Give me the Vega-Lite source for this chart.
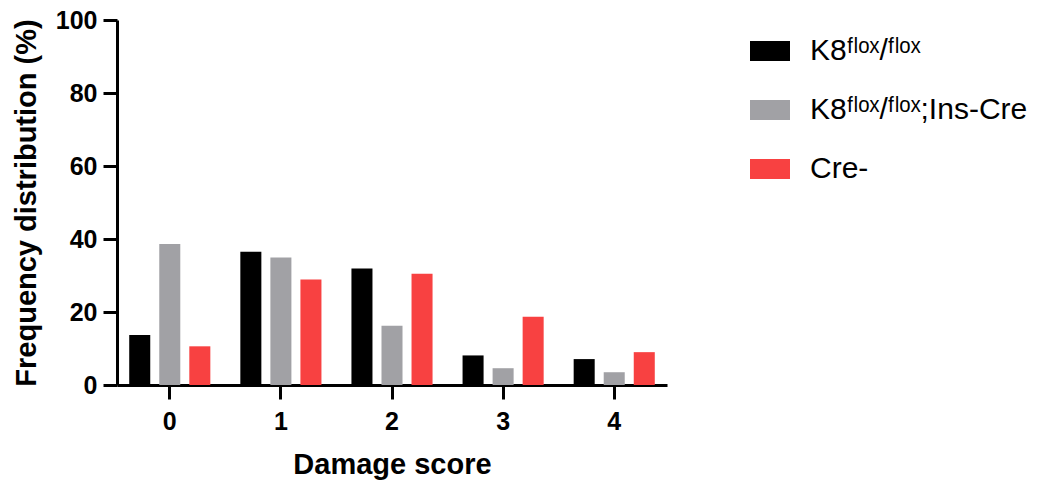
{
  "$schema": "https://vega.github.io/schema/vega-lite/v6.json",
  "autosize": {"type": "none"},
  "width": 550,
  "height": 365,
  "padding": {"left": 117, "top": 20, "right": 376, "bottom": 96},
  "background": "white",
  "config": {
    "view": {"stroke": null},
    "font": "Liberation Sans"
  },
  "data": {
    "values": [
      {"score": "0", "group": "K8ᶠˡᵒˣ/ᶠˡᵒˣ", "pct": 13.7},
      {"score": "0", "group": "K8ᶠˡᵒˣ/ᶠˡᵒˣ;Ins-Cre", "pct": 38.6},
      {"score": "0", "group": "Cre-", "pct": 10.6},
      {"score": "1", "group": "K8ᶠˡᵒˣ/ᶠˡᵒˣ", "pct": 36.5},
      {"score": "1", "group": "K8ᶠˡᵒˣ/ᶠˡᵒˣ;Ins-Cre", "pct": 34.9},
      {"score": "1", "group": "Cre-", "pct": 28.9},
      {"score": "2", "group": "K8ᶠˡᵒˣ/ᶠˡᵒˣ", "pct": 31.9},
      {"score": "2", "group": "K8ᶠˡᵒˣ/ᶠˡᵒˣ;Ins-Cre", "pct": 16.2},
      {"score": "2", "group": "Cre-", "pct": 30.5},
      {"score": "3", "group": "K8ᶠˡᵒˣ/ᶠˡᵒˣ", "pct": 8.1},
      {"score": "3", "group": "K8ᶠˡᵒˣ/ᶠˡᵒˣ;Ins-Cre", "pct": 4.6},
      {"score": "3", "group": "Cre-", "pct": 18.7},
      {"score": "4", "group": "K8ᶠˡᵒˣ/ᶠˡᵒˣ", "pct": 7.1},
      {"score": "4", "group": "K8ᶠˡᵒˣ/ᶠˡᵒˣ;Ins-Cre", "pct": 3.5},
      {"score": "4", "group": "Cre-", "pct": 9.0}
    ]
  },
  "mark": {"type": "bar", "strokeWidth": 0},
  "encoding": {
    "x": {
      "field": "score",
      "type": "nominal",
      "sort": ["0", "1", "2", "3", "4"],
      "scale": {"paddingInner": 0.27, "paddingOuter": 0.11},
      "axis": {
        "title": "Damage score",
        "labelAngle": 0,
        "domainColor": "black",
        "domainWidth": 3,
        "tickColor": "black",
        "tickWidth": 3,
        "tickSize": 14,
        "labelFont": "Liberation Sans",
        "labelFontWeight": "bold",
        "labelFontSize": 25,
        "labelColor": "black",
        "labelPadding": 10,
        "titleFont": "Liberation Sans",
        "titleFontWeight": "bold",
        "titleFontSize": 29,
        "titleColor": "black",
        "titlePadding": 16
      }
    },
    "xOffset": {
      "field": "group",
      "type": "nominal",
      "sort": ["K8ᶠˡᵒˣ/ᶠˡᵒˣ", "K8ᶠˡᵒˣ/ᶠˡᵒˣ;Ins-Cre", "Cre-"],
      "scale": {"paddingInner": 0.3, "paddingOuter": 0}
    },
    "y": {
      "field": "pct",
      "type": "quantitative",
      "scale": {"domain": [0, 100], "nice": false},
      "axis": {
        "title": "Frequency distribution (%)",
        "values": [0, 20, 40, 60, 80, 100],
        "grid": false,
        "domainColor": "black",
        "domainWidth": 3,
        "tickColor": "black",
        "tickWidth": 3,
        "tickSize": 14,
        "labelFont": "Liberation Sans",
        "labelFontWeight": "bold",
        "labelFontSize": 25,
        "labelColor": "black",
        "labelPadding": 6,
        "titleFont": "Liberation Sans",
        "titleFontWeight": "bold",
        "titleFontSize": 29,
        "titleColor": "black",
        "titlePadding": 14
      }
    },
    "color": {
      "field": "group",
      "type": "nominal",
      "sort": ["K8ᶠˡᵒˣ/ᶠˡᵒˣ", "K8ᶠˡᵒˣ/ᶠˡᵒˣ;Ins-Cre", "Cre-"],
      "scale": {
        "domain": ["K8ᶠˡᵒˣ/ᶠˡᵒˣ", "K8ᶠˡᵒˣ/ᶠˡᵒˣ;Ins-Cre", "Cre-"],
        "range": ["#000000", "#a1a1a5", "#f84141"]
      },
      "legend": {
        "title": null,
        "orient": "right",
        "offset": 72,
        "padding": 11,
        "symbolType": "M-1,-0.5H1V0.5H-1Z",
        "symbolSize": 1600,
        "symbolStrokeWidth": 0,
        "symbolOpacity": 1,
        "labelFont": "Liberation Sans",
        "labelFontSize": 30,
        "labelColor": "black",
        "labelOffset": 20,
        "rowPadding": 24,
        "labelLimit": 300
      }
    }
  }
}
